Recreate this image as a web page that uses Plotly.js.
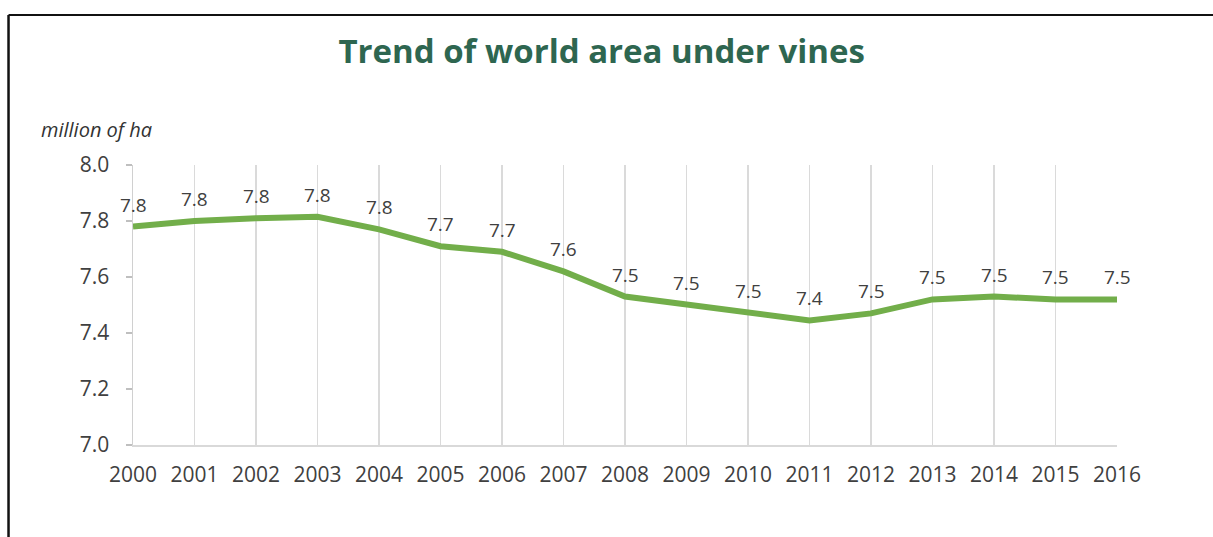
<!DOCTYPE html>
<html>
<head>
<meta charset="utf-8">
<script src="https://cdn.plot.ly/plotly-3.0.1.min.js"></script>
<style>html,body{margin:0;padding:0;background:#fff;}#chart{width:1213px;height:537px;}</style>
</head>
<body>
<div id="chart"></div>
<script>
const years = [2000,2001,2002,2003,2004,2005,2006,2007,2008,2009,2010,2011,2012,2013,2014,2015,2016];
const areaMillionHa = [7.78,7.80,7.81,7.815,7.77,7.71,7.69,7.62,7.53,7.50,7.47,7.445,7.47,7.52,7.53,7.52,7.52];
const valueLabels = ['7.8','7.8','7.8','7.8','7.8','7.7','7.7','7.6','7.5','7.5','7.5','7.4','7.5','7.5','7.5','7.5','7.5'];
const yTicks = [7.0,7.2,7.4,7.6,7.8,8.0];
const yTickLabels = ['7.0','7.2','7.4','7.6','7.8','8.0'];

const FONT = 'Open Sans, DejaVu Sans, sans-serif';
const TXT = '#404040';

const trace = {
  x: years, y: areaMillionHa, type: 'scatter', mode: 'lines',
  line: {color: '#72ae4a', width: 6},
  hoverinfo: 'x+y', showlegend: false, cliponaxis: false
};

const annotations = years.map((yr, i) => ({
  x: yr, y: areaMillionHa[i], xref: 'x', yref: 'y',
  text: valueLabels[i], showarrow: false, yshift: 22,
  font: {family: FONT, size: 19, color: TXT}
}));
annotations.push({
  xref: 'paper', yref: 'paper', x: -0.096, y: 1.073, xanchor: 'left', yanchor: 'bottom',
  text: '<i>million of ha</i>', showarrow: false,
  font: {family: FONT, size: 20, color: '#333333'}
});

const layout = {
  width: 1213, height: 537,
  margin: {l: 133, r: 96, t: 165, b: 92},
  paper_bgcolor: '#ffffff', plot_bgcolor: '#ffffff',
  title: {
    text: '<b>Trend of world area under vines</b>',
    x: 0.496, xanchor: 'center', y: 0.905, yanchor: 'middle',
    font: {family: FONT, size: 33, color: '#2e6650'}
  },
  xaxis: {
    range: [2000, 2016], tickmode: 'array', tickvals: years, ticktext: years.map(String),
    showgrid: true, gridcolor: '#dadada', gridwidth: 1.5,
    showline: true, linecolor: '#d9d9d9', linewidth: 1.5,
    zeroline: false, ticks: '', ticklabelstandoff: 10,
    tickfont: {family: FONT, size: 21, color: TXT}, fixedrange: true
  },
  yaxis: {
    range: [7.0, 8.0], tickmode: 'array', tickvals: yTicks, ticktext: yTickLabels,
    showgrid: false, showline: true, linecolor: '#d0d0d0', linewidth: 1.5,
    ticks: 'outside', ticklen: 6, tickcolor: '#bfbfbf', tickwidth: 1.5,
    zeroline: false, ticklabelstandoff: 12,
    tickfont: {family: FONT, size: 21, color: TXT}, fixedrange: true
  },
  annotations: annotations,
  shapes: [
    {type: 'line', xref: 'paper', yref: 'paper', x0: -0.1265, x1: 1.12, y0: 1.5357, y1: 1.5357,
     line: {color: '#111111', width: 2}},
    {type: 'line', xref: 'paper', yref: 'paper', x0: -0.1265, x1: -0.1265, y0: 1.5357, y1: -0.40,
     line: {color: '#111111', width: 2.5}}
  ]
};

Plotly.newPlot('chart', [trace], layout, {displayModeBar: false, staticPlot: true});
</script>
</body>
</html>
